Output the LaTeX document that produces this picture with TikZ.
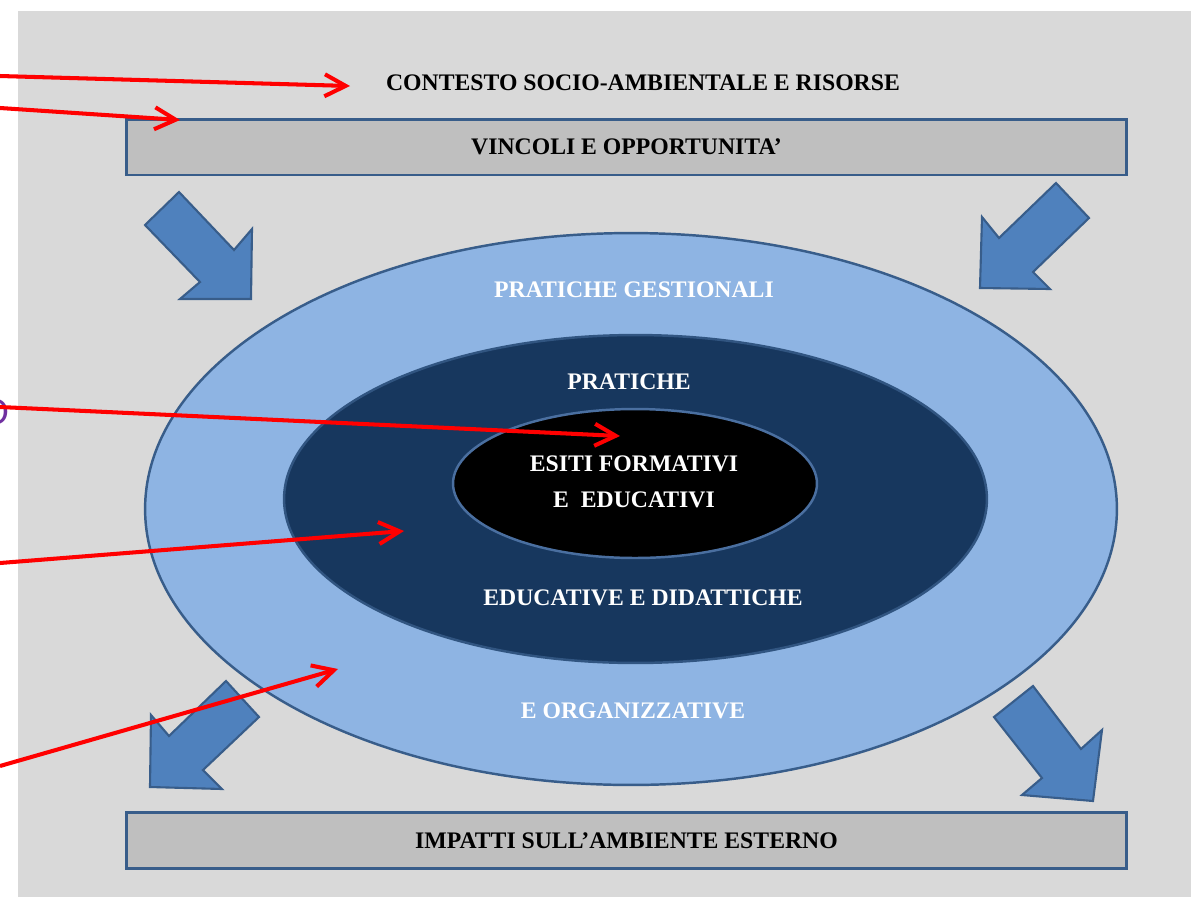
\documentclass[tikz,border=0pt]{standalone}
\usepackage{fontspec}
\setmainfont{Liberation Serif}
\setsansfont{Carlito}
\usetikzlibrary{shapes.geometric,arrows.meta}
\definecolor{bggray}{HTML}{D9D9D9}
\definecolor{boxgray}{HTML}{BFBFBF}
\definecolor{edgeblue}{HTML}{385D8A}
\definecolor{lightblue}{HTML}{8EB4E3}
\definecolor{navyblue}{HTML}{17375E}
\definecolor{arrowblue}{HTML}{4F81BD}
\definecolor{innerline}{HTML}{4A6FA0}
\definecolor{notepurple}{HTML}{7030A0}

\begin{document}
\begin{tikzpicture}[x=0.02cm, y=-0.02cm,
        lbl/.style = {font=\bfseries\fontsize{13.5}{20.5}\selectfont},
        band/.style = {draw=edgeblue, line width=1.7pt, fill=boxgray, minimum width=20.02cm, minimum height=1.12cm, inner sep=0pt, lbl},
        ring/.style = {ellipse, draw=edgeblue, line width=1.4pt, inner sep=0pt},
        bigarrow/.style = {draw=edgeblue, line width=1.2pt, fill=arrowblue, line join=miter},
        ptr/.style = {draw=red, line width=2.3pt, -{Straight Barb[length=0.42cm, width=0.44cm]}}]
        \useasboundingbox (0,0) rectangle (1191,897);
        \fill[bggray] (18,11) rectangle (1191,897);

        % cut-off note on the left
        \node[text=notepurple, font=\sffamily\fontsize{22}{24}\selectfont] (note) at (-4,412) {O};

        \node[lbl] (ctx) at (643,83) {CONTESTO SOCIO-AMBIENTALE E RISORSE};
        \node[band] (vinc) at (626.5,147) {VINCOLI E OPPORTUNITA’};
        \node[band] (imp) at (626.5,840.5) {IMPATTI SULL’AMBIENTE ESTERNO};

        % block arrows
        \draw[bigarrow] (179,192) -- (234,250) -- (252,229) -- (251,299) -- (180,299) -- (200,282) -- (145,225) -- cycle;
        \draw[bigarrow] (1056,183) -- (1089,218) -- (1033,272) -- (1050,289) -- (980,288) -- (982,217) -- (999,238) -- cycle;
        \draw[bigarrow] (226,681) -- (259,717) -- (203,770) -- (222,789) -- (150,787) -- (151,715) -- (169,736) -- cycle;
        \draw[bigarrow] (1033,686) -- (994,717) -- (1042,778) -- (1022,795) -- (1093,801) -- (1102,730) -- (1081,749) -- cycle;

        % the three rings
        \node[ring, fill=lightblue, minimum width=19.44cm, minimum height=11.04cm] (outer) at (631,509) {};
        \node[ring, fill=navyblue, draw=edgeblue!80!navyblue, minimum width=14.06cm, minimum height=6.56cm] (middle) at (635.5,499) {};
        \node[ring, fill=black, draw=innerline, minimum width=7.28cm, minimum height=2.98cm] (inner) at (635,483.5) {};

        \node[lbl, text=white] (gest) at (634,290) {PRATICHE GESTIONALI};
        \node[lbl, text=white] (org) at (633,711) {E ORGANIZZATIVE};
        \node[lbl, text=white] (prat) at (629,382) {PRATICHE};
        \node[lbl, text=white] (did) at (643,598) {EDUCATIVE E DIDATTICHE};
        \node[lbl, text=white, align=center] (esiti) at (634,482) {ESITI FORMATIVI\\E~ EDUCATIVI};

        % red pointers
        \coordinate (s1) at (0,76);
        \coordinate (s2) at (0,108);
        \coordinate (s3) at (0,407);
        \coordinate (s4) at (0,563);
        \coordinate (s5) at (0,766);
        \coordinate (t1) at (350,86);
        \coordinate (t2) at (180,120);
        \coordinate (t3) at (620,436);
        \coordinate (t4) at (404,531);
        \coordinate (t5) at (338,669);
        \draw[ptr] (s1) -- (t1);
        \draw[ptr] (s2) -- (t2);
        \draw[ptr] (s3) -- (t3);
        \draw[ptr] (s4) -- (t4);
        \draw[ptr] (s5) -- (t5);
\end{tikzpicture}
\end{document}
